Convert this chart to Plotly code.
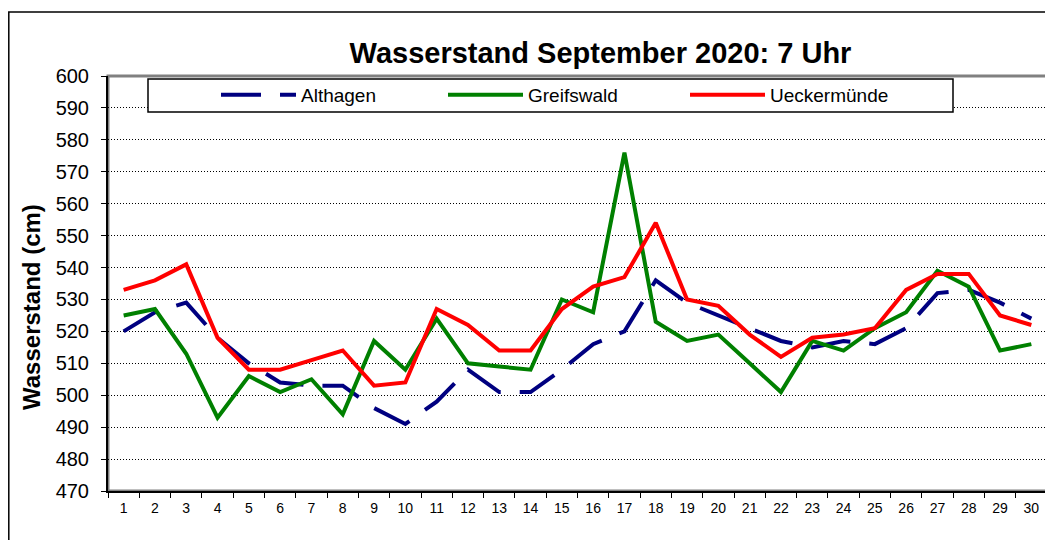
import plotly.graph_objects as go

days = [str(d) for d in range(1, 31)]
althagen = [520, 526, 529, 518, 510, 504, 503, 503, 496, 491, 498, 508, 501, 501, 508,
            516, 520, 536, 529, 525, 521, 517, 515, 517, 516, 521, 532, 533, 529, 524]
greifswald = [525, 527, 513, 493, 506, 501, 505, 494, 517, 508, 524, 510, 509, 508, 530,
              526, 576, 523, 517, 519, 510, 501, 517, 514, 521, 526, 539, 534, 514, 516]
ueckermuende = [533, 536, 541, 518, 508, 508, 511, 514, 503, 504, 527, 522, 514, 514, 527,
                534, 537, 554, 530, 528, 519, 512, 518, 519, 521, 533, 538, 538, 525, 522]
y_ticks = list(range(470, 601, 10))

FONT = "Arial, Liberation Sans, sans-serif"
OFF = 8  # default body margin of the html page
W, H = 1053 - OFF, 540 - OFF
# plot area in window pixels: left 108, right 1047, top 76, bottom 491
L = 108 - OFF
T = 76 - OFF
R = W - (1047 - OFF)
B = H - (491 - OFF)
pw, ph = W - L - R, H - T - B


def px_x(p):
    """window x pixel -> paper coordinate"""
    return (p - OFF - L) / pw


def px_y(p):
    """window y pixel -> paper coordinate"""
    return (H - B - (p - OFF)) / ph


fig = go.Figure()
fig.add_trace(go.Scatter(x=days, y=althagen, name="Althagen", mode="lines", legend="legend",
                         line=dict(color="#000080", width=4, dash="40px,19px")))
fig.add_trace(go.Scatter(x=days, y=greifswald, name="Greifswald", mode="lines", legend="legend2",
                         line=dict(color="#008000", width=4)))
fig.add_trace(go.Scatter(x=days, y=ueckermuende, name="Ueckermünde", mode="lines", legend="legend3",
                         line=dict(color="#FF0000", width=4)))

leg_common = dict(orientation="h", yanchor="middle", xanchor="left",
                  bgcolor="rgba(0,0,0,0)", borderwidth=0,
                  font=dict(size=19, family=FONT, color="black"),
                  itemwidth=75)

fig.update_layout(
    width=W, height=H,
    margin=dict(l=L, r=R, t=T, b=B, pad=0),
    paper_bgcolor="white", plot_bgcolor="white",
    font=dict(family=FONT, color="black"),
    title=dict(text="<b>Wasserstand September 2020: 7 Uhr</b>",
               font=dict(size=29, family=FONT, color="black"),
               xref="container", yref="container",
               x=(600.5 - OFF) / W, y=1 - (53 - OFF) / H, xanchor="center", yanchor="middle"),
    showlegend=True,
    legend=dict(x=px_x(216), y=px_y(95), **leg_common),
    legend2=dict(x=px_x(443), y=px_y(95), **leg_common),
    legend3=dict(x=px_x(685), y=px_y(95), **leg_common),
    xaxis=dict(type="category", range=[-0.5, 29.5], showgrid=False,
               showline=True, linecolor="black", linewidth=2,
               ticks="outside", tickson="boundaries", ticklen=5, tickcolor="black",
               tickfont=dict(size=14, family=FONT, color="black"),
               ticklabelstandoff=3, zeroline=False),
    yaxis=dict(range=[470, 600], tickvals=y_ticks, showgrid=True,
               gridcolor="black", gridwidth=1, griddash="1px,2px",
               showline=True, linecolor="black", linewidth=2,
               ticks="outside", ticklen=5, tickcolor="black",
               tickfont=dict(size=20, family=FONT, color="black"),
               ticklabelstandoff=8, zeroline=False),
    shapes=[
        # plot area frame (gray top/right)
        dict(type="rect", xref="paper", yref="paper", x0=0, x1=1, y0=0, y1=1,
             line=dict(color="#808080", width=3), layer="below"),
        # outer chart frame
        dict(type="rect", xref="paper", yref="paper",
             x0=px_x(8.8), x1=px_x(1070), y0=px_y(560), y1=px_y(12),
             line=dict(color="black", width=1.5), layer="below"),
        # legend box
        dict(type="rect", xref="paper", yref="paper",
             x0=px_x(148), x1=px_x(953), y0=px_y(112), y1=px_y(79),
             line=dict(color="black", width=1.5), fillcolor="white", layer="above"),
    ],
    annotations=[
        dict(text="<b>Wasserstand (cm)</b>", xref="paper", yref="paper",
             x=px_x(31), y=px_y(307), textangle=-90, showarrow=False,
             xanchor="center", yanchor="middle",
             font=dict(size=24, family=FONT, color="black")),
    ],
)

fig.write_html("out.html")
